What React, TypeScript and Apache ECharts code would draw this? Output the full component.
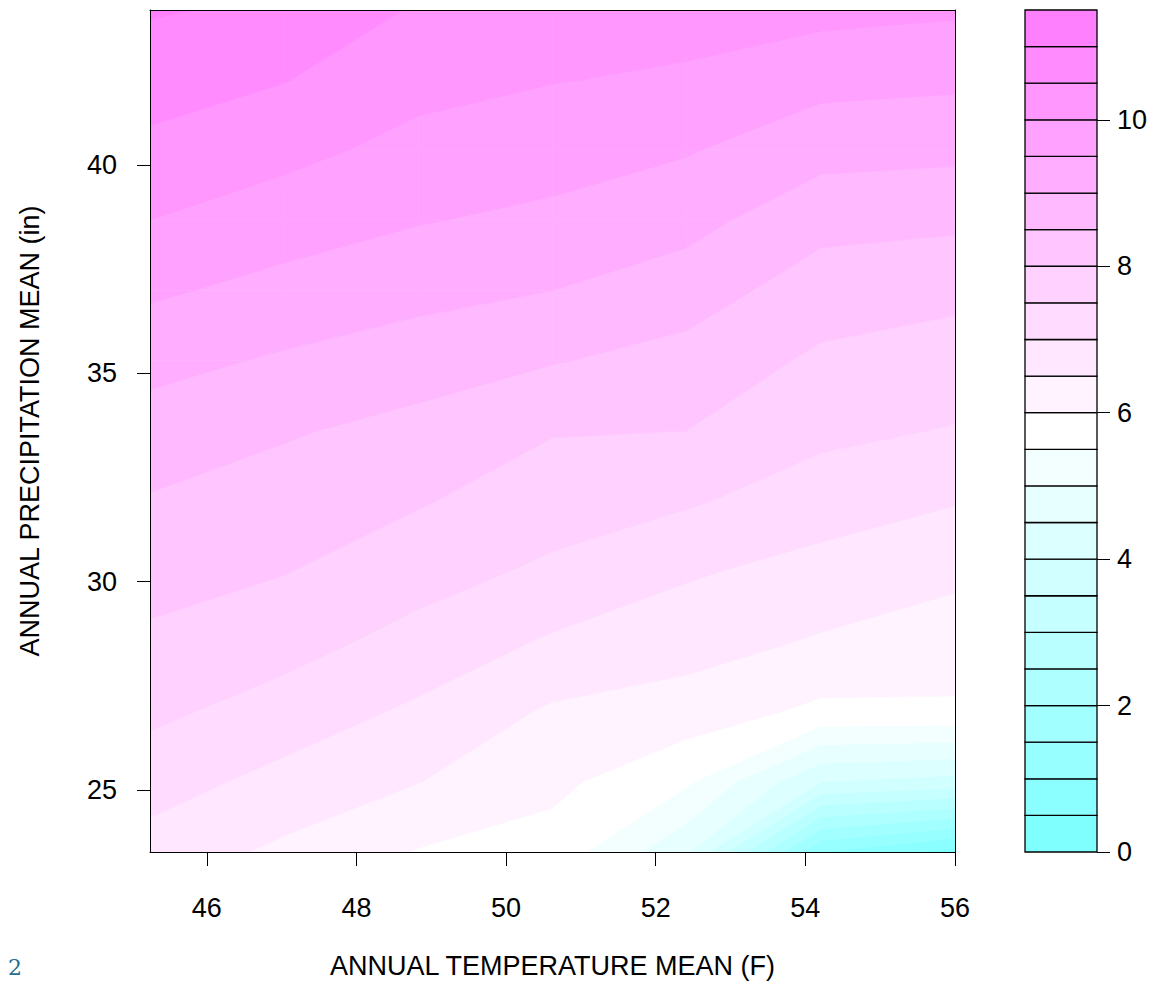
import React, { useEffect, useRef } from "react";
import * as echarts from "echarts";

// Grid nodes of the surface (annual temperature mean, annual precipitation mean)
const temperatureNodes = [45.24, 47.03, 48.83, 50.62, 52.41, 54.21, 56.0];
const precipitationNodes = [23.51, 25.19, 26.88, 28.56, 30.25, 31.93, 33.62, 35.3, 36.98, 38.67, 40.35, 42.04, 43.72];

// Surface values, one list per temperature node, from lowest to highest precipitation node
const zAt45 = [6.79, 7.22, 7.61, 7.91, 8.19, 8.46, 8.79, 9.15, 9.58, 10.0, 10.4, 10.69, 11.05];
const zAt47 = [6.4, 6.84, 7.29, 7.69, 8.02, 8.28, 8.55, 8.94, 9.34, 9.75, 10.14, 10.52, 10.9];
const zAt49 = [5.97, 6.51, 6.91, 7.33, 7.7, 8.04, 8.35, 8.73, 9.16, 9.53, 9.85, 10.16, 10.45];
const zAt51 = [5.8, 6.12, 6.43, 6.94, 7.41, 7.73, 8.03, 8.53, 9.0, 9.39, 9.72, 10.02, 10.3];
const zAt52 = [4.6, 5.58, 6.27, 6.71, 7.06, 7.56, 8.0, 8.32, 8.74, 9.17, 9.54, 9.93, 10.2];
const zAt54 = [1.0, 4.0, 5.89, 6.45, 6.83, 7.24, 7.62, 7.91, 8.25, 8.66, 9.18, 9.66, 10.15];
const zAt56 = [0.3, 3.8, 5.92, 6.28, 6.6, 7.03, 7.47, 7.78, 8.12, 8.6, 9.12, 9.6, 10.07];
const zColumns = [zAt45, zAt47, zAt49, zAt51, zAt52, zAt54, zAt56];

// Contour levels (filled.contour breaks)
const contourLevels = [0, 0.5, 1, 1.5, 2, 2.5, 3, 3.5, 4, 4.5, 5, 5.5, 6, 6.5, 7, 7.5, 8, 8.5, 9, 9.5, 10, 10.5, 11, 11.5];

// Tick labels
const temperatureTicks = [46, 48, 50, 52, 54, 56];
const precipitationTicks = [25, 30, 35, 40];
const keyTicks = [0, 2, 4, 6, 8, 10];

const X_NAME = "ANNUAL TEMPERATURE MEAN (F)";
const Y_NAME = "ANNUAL PRECIPITATION MEAN (in)";

// R's cm.colors palette
function cmColors(n: number): string[] {
  const even = n % 2 === 0;
  const k = Math.floor(n / 2);
  const l1 = k + 1 - (even ? 1 : 0);
  const l2 = n - k + (even ? 1 : 0);
  const hex = (r: number, g: number, b: number) =>
    "#" + [r, g, b].map((v) => Math.round(v * 255).toString(16).padStart(2, "0")).join("");
  const out: string[] = [];
  const sEnd = even ? 0.5 / k : 0;
  for (let i = 0; i < l1; i++) {
    const s = l1 === 1 ? 0.5 : 0.5 + ((sEnd - 0.5) * i) / (l1 - 1);
    out.push(hex(1 - s, 1, 1));
  }
  for (let i = 1; i < l2; i++) {
    const s = (0.5 * i) / (l2 - 1);
    out.push(hex(1, 1 - s, 1));
  }
  return out;
}

type P = { x: number; y: number; z: number };

function clipPoly(poly: P[], level: number, above: boolean): P[] {
  const out: P[] = [];
  const n = poly.length;
  for (let i = 0; i < n; i++) {
    const a = poly[i];
    const b = poly[(i + 1) % n];
    const ain = above ? a.z >= level : a.z <= level;
    const bin = above ? b.z >= level : b.z <= level;
    if (ain) out.push(a);
    if (ain !== bin) {
      const t = (level - a.z) / (b.z - a.z);
      out.push({ x: a.x + t * (b.x - a.x), y: a.y + t * (b.y - a.y), z: level });
    }
  }
  return out;
}

function buildBands() {
  const polys: { band: number; pts: number[][] }[] = [];
  for (let i = 0; i < temperatureNodes.length - 1; i++) {
    for (let j = 0; j < precipitationNodes.length - 1; j++) {
      const quad: P[] = [
        { x: temperatureNodes[i], y: precipitationNodes[j], z: zColumns[i][j] },
        { x: temperatureNodes[i + 1], y: precipitationNodes[j], z: zColumns[i + 1][j] },
        { x: temperatureNodes[i + 1], y: precipitationNodes[j + 1], z: zColumns[i + 1][j + 1] },
        { x: temperatureNodes[i], y: precipitationNodes[j + 1], z: zColumns[i][j + 1] },
      ];
      for (let k = 0; k < contourLevels.length - 1; k++) {
        let p = clipPoly(quad, contourLevels[k], true);
        if (p.length < 3) continue;
        p = clipPoly(p, contourLevels[k + 1], false);
        if (p.length < 3) continue;
        polys.push({ band: k, pts: p.map((q) => [q.x, q.y]) });
      }
    }
  }
  return polys;
}

const FONT = "'Liberation Sans', Arial, sans-serif";

export default function App() {
  const ref = useRef<HTMLDivElement>(null);

  useEffect(() => {
    document.body.style.margin = "0";
    if (!ref.current) return;
    const chart = echarts.init(ref.current, null, { renderer: "svg" });
    const colors = cmColors(contourLevels.length - 1);
    const polys = buildBands();
    const keyData = contourLevels.slice(0, -1).map((lo, k) => [0, lo, contourLevels[k + 1], k]);

    const tickLabel = { fontFamily: FONT, fontSize: 27, color: "#000" };

    chart.setOption({
      animation: false,
      backgroundColor: "#fff",
      grid: [
        { left: 150, top: 10, width: 805, height: 842 },
        { left: 1025, top: 10, width: 72, height: 842 },
      ],
      xAxis: [
        {
          gridIndex: 0,
          type: "value",
          min: 45.24,
          max: 56,
          position: "bottom",
          z: 10,
          axisLine: { show: true, onZero: false, lineStyle: { color: "#000", width: 1 } },
          axisTick: { show: true, customValues: temperatureTicks, length: 14, lineStyle: { color: "#000" } },
          axisLabel: { customValues: temperatureTicks, margin: 42, ...tickLabel },
          splitLine: { show: false },
          name: X_NAME,
          nameLocation: "middle",
          nameGap: 100,
          nameTextStyle: { fontFamily: FONT, fontSize: 27, color: "#000" },
        },
        {
          gridIndex: 0,
          type: "value",
          min: 45.24,
          max: 56,
          position: "top",
          z: 10,
          axisLine: { show: true, onZero: false, lineStyle: { color: "#000", width: 1 } },
          axisTick: { show: false },
          axisLabel: { show: false },
          splitLine: { show: false },
        },
        { gridIndex: 1, type: "value", min: 0, max: 1, show: false },
      ],
      yAxis: [
        {
          gridIndex: 0,
          type: "value",
          min: 23.51,
          max: 43.72,
          position: "left",
          z: 10,
          axisLine: { show: true, onZero: false, lineStyle: { color: "#000", width: 1 } },
          axisTick: { show: true, customValues: precipitationTicks, length: 13, lineStyle: { color: "#000" } },
          axisLabel: { customValues: precipitationTicks, margin: 33, ...tickLabel },
          splitLine: { show: false },
          name: Y_NAME,
          nameLocation: "middle",
          nameGap: 107,
          nameTextStyle: { fontFamily: FONT, fontSize: 27, color: "#000" },
        },
        {
          gridIndex: 0,
          type: "value",
          min: 23.51,
          max: 43.72,
          position: "right",
          z: 10,
          axisLine: { show: true, onZero: false, lineStyle: { color: "#000", width: 1 } },
          axisTick: { show: false },
          axisLabel: { show: false },
          splitLine: { show: false },
        },
        {
          gridIndex: 1,
          type: "value",
          min: 0,
          max: 11.5,
          position: "right",
          z: 10,
          axisLine: { show: false, onZero: false },
          axisTick: { show: true, customValues: keyTicks, length: 13, lineStyle: { color: "#000" } },
          axisLabel: { customValues: keyTicks, margin: 20, ...tickLabel },
          splitLine: { show: false },
        },
      ],
      series: [
        {
          type: "custom",
          xAxisIndex: 0,
          yAxisIndex: 0,
          clip: true,
          silent: true,
          data: polys.map((p, i) => [p.pts[0][0], p.pts[0][1], i]),
          encode: { x: 0, y: 1 },
          renderItem: (params: any, api: any) => {
            const poly = polys[params.dataIndex];
            const points = poly.pts.map((pt) => api.coord(pt));
            const c = colors[poly.band];
            return {
              type: "polygon",
              shape: { points },
              style: { fill: c, stroke: c, lineWidth: 0.6 },
            };
          },
        },
        {
          type: "custom",
          xAxisIndex: 2,
          yAxisIndex: 2,
          silent: true,
          data: keyData,
          encode: { x: 0, y: [1, 2] },
          renderItem: (params: any, api: any) => {
            const lo = api.value(1);
            const hi = api.value(2);
            const k = api.value(3);
            const p1 = api.coord([0, hi]);
            const p2 = api.coord([1, lo]);
            return {
              type: "rect",
              shape: { x: p1[0], y: p1[1], width: p2[0] - p1[0], height: p2[1] - p1[1] },
              style: { fill: colors[k], stroke: "#000", lineWidth: 1.3 },
            };
          },
        },
      ],
      graphic: [
        {
          type: "text",
          left: 8,
          top: 956,
          style: { text: "2", fontFamily: "'DejaVu Serif', serif", fontSize: 22, fill: "#1f6f8f" },
        },
      ],
    });

    return () => chart.dispose();
  }, []);

  return <div ref={ref} style={{ position: "absolute", left: 0, top: 0, width: 1169, height: 987 }} />;
}
